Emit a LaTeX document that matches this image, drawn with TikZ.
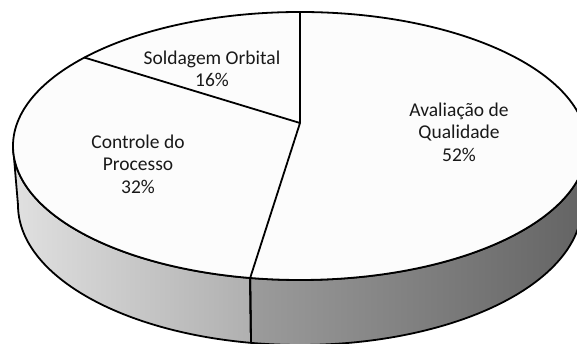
\documentclass[tikz,border=0pt]{standalone}
\usepackage{fontspec}
\setmainfont{Carlito}
\usetikzlibrary{positioning}

\begin{document}
\begin{tikzpicture}[x=1pt,y=1pt,
		rim/.style={draw=black, line width=1.8pt, line join=round},
		slice label/.style={align=center, text=black!90, font=\fontsize{19.5}{22.5}\selectfont}]
		\useasboundingbox (0,0) rectangle (577,344);
		\clip (0,0) rectangle (577,344);
		\coordinate (top) at (300,198);
		\coordinate (base) at (300,139);
		\coordinate (hub) at (300,221);
		\path (top) ++(90:287pt and 134pt) coordinate (t90);
		\path (top) ++(138.7:287pt and 134pt) coordinate (t139);
		\path (top) ++(260:287pt and 134pt) coordinate (t260);
		\path (base) ++(260:282pt and 140pt) coordinate (b260);
		\path (base) ++(360:282pt and 140pt) coordinate (b360);
		\shadedraw[rim, left color=black!12, right color=black!35]
			(top) ++(180:287pt and 134pt) arc[start angle=180, end angle=260, x radius=287pt, y radius=134pt]
			-- (b260) arc[start angle=260, end angle=180, x radius=282pt, y radius=140pt] -- cycle;
		\shadedraw[rim, left color=black!39, middle color=black!60, right color=black!61]
			(t260) arc[start angle=260, end angle=360, x radius=287pt, y radius=134pt]
			-- (b360) arc[start angle=360, end angle=260, x radius=282pt, y radius=140pt] -- cycle;
		\filldraw[rim, fill=black!1] (top) ellipse[x radius=287pt, y radius=134pt];
		\draw[rim] (hub) -- (t90)
			(hub) -- (t139)
			(hub) -- (t260) -- (b260);
		\node [slice label] (aval) at (459,212) {Avaliação de\\Qualidade\\52\%};
		\node [slice label] (ctrl) at (138,180) {Controle do\\Processo\\32\%};
		\node [slice label] (sold) at (212,275) {Soldagem Orbital\\16\%};
	\end{tikzpicture}
\end{document}
